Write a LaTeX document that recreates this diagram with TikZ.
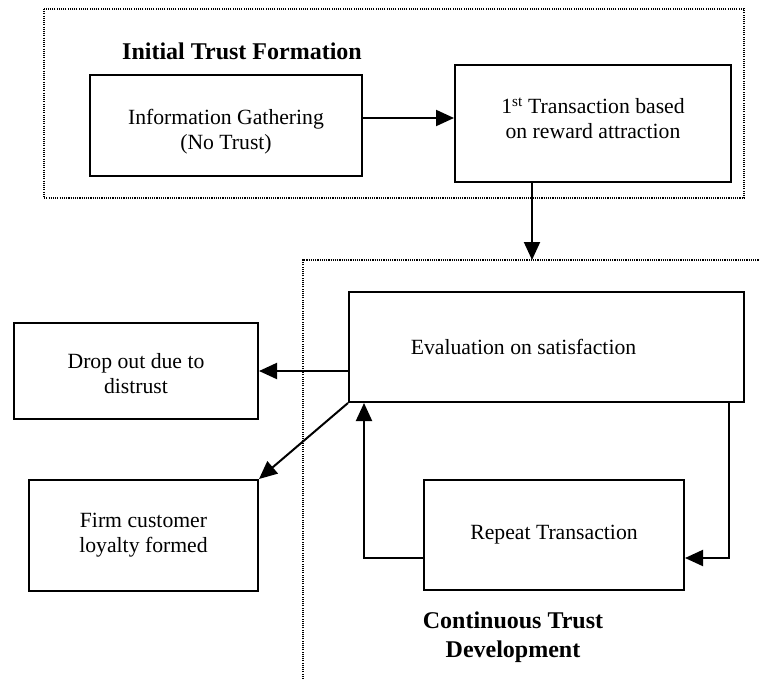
\documentclass[tikz,border=0pt]{standalone}
\usepackage{fontspec}
\setmainfont{Liberation Serif}
\usetikzlibrary{arrows.meta}
\begin{document}
\begin{tikzpicture}[x=1pt,y=-1pt,
  stepbox/.style={draw,line width=2pt,inner sep=0pt},
  boxtext/.style={align=center,inner sep=0pt,
    font=\fontsize{21.7}{25}\selectfont},
  heading/.style={align=center,font=\fontsize{24}{28.5}\selectfont\bfseries},
  zone/.style={line width=1.1pt,dash pattern=on 1.1pt off 1.1pt},
  arr/.style={line width=2pt,-{Triangle[length=18pt,width=16pt]}}]
\useasboundingbox (0,0) rectangle (760,679);

% dotted zones
\draw[zone] (44,9) rectangle (744,198);
\draw[zone] (303,679) -- (303,260) -- (760,260);

% headings
\node[heading] (titleA) at (242,51) {Initial Trust Formation};
\node[heading] (titleB) at (513,637) {Continuous Trust\\Development};

% process boxes
\node[stepbox,minimum width=272pt,minimum height=101pt] (info) at (226,125.5) {};
\node[stepbox,minimum width=276pt,minimum height=117pt] (first) at (593,123.5) {};
\node[stepbox,minimum width=395pt,minimum height=110pt] (eval) at (546.5,347) {};
\node[stepbox,minimum width=244pt,minimum height=96pt] (drop) at (136,371) {};
\node[stepbox,minimum width=229pt,minimum height=111pt] (firm) at (143.5,535.5) {};
\node[stepbox,minimum width=260pt,minimum height=110pt] (repeat) at (554,535) {};

% box texts
\node[boxtext] (infoT) at ([yshift=-6pt]info.center) {Information Gathering\\(No Trust)};
\node[boxtext] (firstT) at ([yshift=5pt]first.center) {1\textsuperscript{st} Transaction based\\on reward attraction};
\node[boxtext] (evalT) at ([xshift=-23pt]eval.center) {Evaluation on satisfaction};
\node[boxtext] (dropT) at ([yshift=-3pt]drop.center) {Drop out due to\\distrust};
\node[boxtext] (firmT) at (firm.center) {Firm customer\\loyalty formed};
\node[boxtext] (repeatT) at (repeat.center) {Repeat Transaction};

% turning points of the connectors
\coordinate (entry) at (532,260);
\coordinate (lp) at (364,558);
\coordinate (rp) at (729,558);

% connectors
\draw[arr] ([yshift=7.5pt]info.east) -- ([yshift=7.5pt]info.east -| first.west);
\draw[arr] (first.south -| entry) -- (entry);
\draw[arr] (eval.west |- drop) -- (drop.east);
\draw[arr] (eval.south west) -- (firm.north east);
\draw[arr] (repeat.west |- lp) -- (lp) -- (lp |- eval.south);
\draw[arr] (rp |- eval.south) -- (rp) -- (repeat.east |- rp);
\end{tikzpicture}
\end{document}
